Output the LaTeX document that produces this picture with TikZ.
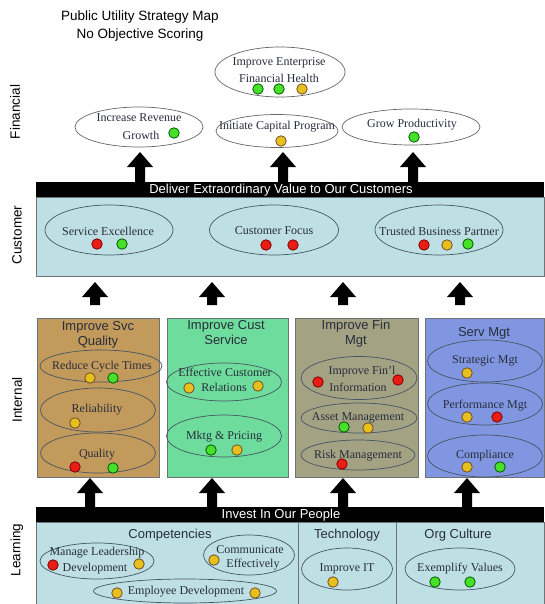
\documentclass[tikz,border=0pt]{standalone}
\usepackage{fontspec}
\setmainfont{Liberation Serif}
\setsansfont{Liberation Sans}
\usetikzlibrary{shapes.geometric}
\definecolor{custfill}{RGB}{190,224,228}
\definecolor{brownfill}{RGB}{194,154,92}
\definecolor{greenfill}{RGB}{110,220,156}
\definecolor{olivefill}{RGB}{163,162,131}
\definecolor{bluefill}{RGB}{128,150,224}
\definecolor{edgegray}{RGB}{110,115,120}
\definecolor{ellline}{RGB}{70,85,100}
\definecolor{dred}{RGB}{232,30,20}
\definecolor{dgreen}{RGB}{70,225,40}
\definecolor{dyellow}{RGB}{232,192,30}
\definecolor{txtdark}{RGB}{40,45,60}
\newcounter{dotc}
\newcommand\sdot[3]{\stepcounter{dotc}\node[#1] (dot\arabic{dotc}) at (#2,#3) {};}
\newcommand\blockup[4]{% name, x, ybottom, ytop
  \fill[black] (#2-5,#3) -- (#2-5,#4+15) -- (#2-13,#4+15) -- (#2,#4) -- (#2+13,#4+15) -- (#2+5,#4+15) -- (#2+5,#3) -- cycle;
  \coordinate (#1) at (#2,#4);}
\tikzset{
  oval/.style={ellipse, draw=ellline, line width=0.7pt, inner sep=0pt},
  fin/.style={oval, draw=gray!80!black, fill=white},
  otext/.style={font=\fontsize{12}{14}\selectfont, text=txtdark, inner sep=0pt},
  stext/.style={font=\sffamily\fontsize{13}{15}\selectfont, inner sep=0pt},
  side/.style={font=\sffamily\fontsize{13.5}{15}\selectfont, rotate=90, inner sep=0pt},
  bar/.style={fill=black},
  panel/.style={draw=edgegray, line width=0.8pt},
  dotbase/.style={circle, minimum size=10.5pt, inner sep=0pt, line width=0.8pt},
  rdot/.style={dotbase, fill=dred, draw=red!50!black},
  gdot/.style={dotbase, fill=dgreen, draw=green!35!black},
  ydot/.style={dotbase, fill=dyellow, draw=brown!60!black},
}
\begin{document}
\begin{tikzpicture}[x=1pt,y=-1pt]
\useasboundingbox (0,0) rectangle (544,604);
% title
\node[stext, align=center, font=\sffamily\fontsize{13.5}{18}\selectfont] (title) at (140,26) {Public Utility Strategy Map\\No Objective Scoring};
% side labels
\node[side] (lfin) at (15,112) {Financial};
\node[side] (lcus) at (17,235) {Customer};
\node[side] (lint) at (17,400) {Internal};
\node[side] (llrn) at (17,550) {Learning};

% ===== Financial =====
\node[fin, minimum width=128pt, minimum height=40pt] (e1) at (139,127) {};
\node[otext] (t1a) at (139,118) {Increase Revenue};
\node[otext] (t1b) at (141,135) {Growth};
\sdot{gdot}{174}{133}
\node[fin, minimum width=130pt, minimum height=50pt] (e2) at (280,72) {};
\node[otext] (t2a) at (279,63) {Improve Enterprise};
\node[otext] (t2b) at (279,78) {Financial Health};
\sdot{gdot}{258}{89}\sdot{gdot}{279}{89}\sdot{ydot}{302}{89}
\node[fin, minimum width=122pt, minimum height=33pt] (e3) at (277,131) {};
\node[otext] (t3) at (277,127) {Initiate Capital Program};
\sdot{ydot}{281}{141}
\node[fin, minimum width=138pt, minimum height=36pt] (e4) at (411,127) {};
\node[otext] (t4) at (412,125) {Grow Productivity};
\sdot{gdot}{414}{137}

% arrows to financial
\blockup{af1}{140}{182}{152}
\blockup{af2}{283}{182}{152}
\blockup{af3}{413}{182}{152}

% ===== Customer =====
\fill[bar] (36,182) rectangle (544,197);
\node[stext, text=white] (deliver) at (281,190) {Deliver Extraordinary Value to Our Customers};
\filldraw[panel, fill=custfill] (36,197) rectangle (544,276);
\node[oval, minimum width=128pt, minimum height=50pt] (c1) at (109,230) {};
\node[otext] (ct1) at (108,231) {Service Excellence};
\sdot{rdot}{97}{244}\sdot{gdot}{122}{244}
\node[oval, minimum width=129pt, minimum height=50pt] (c2) at (274,230) {};
\node[otext] (ct2) at (274,231) {Customer Focus};
\sdot{rdot}{266}{245}\sdot{rdot}{293}{245}
\node[oval, minimum width=128pt, minimum height=50pt] (c3) at (439,230) {};
\node[otext] (ct3) at (439,231) {Trusted Business Partner};
\sdot{rdot}{424}{245}\sdot{ydot}{447}{245}\sdot{gdot}{468}{244}

% arrows internal -> customer
\blockup{ac1}{95}{305}{282}
\blockup{ac2}{212}{305}{282}
\blockup{ac3}{343}{305}{282}
\blockup{ac4}{460}{305}{282}

% ===== Internal =====
\filldraw[panel, fill=brownfill] (37,318) rectangle (159,477);
\filldraw[panel, fill=greenfill] (167,318) rectangle (288,477);
\filldraw[panel, fill=olivefill] (295,318) rectangle (418,477);
\filldraw[panel, fill=bluefill] (425,318) rectangle (544,477);

\node[stext, align=center, text=txtdark] (h1) at (98,335) {Improve Svc\\Quality};
\node[stext, align=center, text=txtdark] (h2) at (226,333) {Improve Cust\\Service};
\node[stext, align=center, text=txtdark] (h3) at (356,334) {Improve Fin\\Mgt};
\node[stext, text=txtdark] (h4) at (484,333) {Serv Mgt};

% col1
\node[oval, minimum width=122pt, minimum height=32pt] (i1) at (101,366) {};
\node[otext] (it1) at (102,367) {Reduce Cycle Times};
\sdot{ydot}{90}{378}\sdot{gdot}{113}{378}
\node[oval, minimum width=115pt, minimum height=44pt] (i2) at (98,410) {};
\node[otext] (it2) at (97,410) {Reliability};
\sdot{ydot}{75}{423}
\node[oval, minimum width=115pt, minimum height=40pt] (i3) at (98,453) {};
\node[otext] (it3) at (97,455) {Quality};
\sdot{rdot}{75}{467}\sdot{gdot}{113}{468}

% col2
\node[oval, minimum width=115pt, minimum height=38pt] (i4) at (224,382) {};
\node[otext] (it4a) at (225,372) {Effective Customer};
\node[otext] (it4b) at (224,387) {Relations};
\sdot{ydot}{189}{388}\sdot{ydot}{258}{386}
\node[oval, minimum width=115pt, minimum height=42pt] (i5) at (224,436) {};
\node[otext] (it5) at (224,437) {Mktg \& Pricing};
\sdot{gdot}{211}{450}\sdot{ydot}{237}{450}

% col3
\node[oval, minimum width=116pt, minimum height=43pt] (i6) at (359,378) {};
\node[otext] (it6a) at (362,372) {Improve Fin'l};
\node[otext] (it6b) at (358,387) {Information};
\sdot{rdot}{318}{382}\sdot{rdot}{398}{380}
\node[oval, minimum width=116pt, minimum height=30pt] (i7) at (359,418) {};
\node[otext] (it7) at (358,418) {Asset Management};
\sdot{gdot}{344}{427}\sdot{ydot}{368}{428}
\node[oval, minimum width=114pt, minimum height=30pt] (i8) at (358,455) {};
\node[otext] (it8) at (358,456) {Risk Management};
\sdot{rdot}{342}{464}

% col4
\node[oval, minimum width=115pt, minimum height=42pt] (i9) at (485,361) {};
\node[otext] (it9) at (485,361) {Strategic Mgt};
\sdot{ydot}{467}{373}
\node[oval, minimum width=115pt, minimum height=42pt] (i10) at (485,404) {};
\node[otext] (it10) at (485,406) {Performance Mgt};
\sdot{ydot}{467}{417}\sdot{rdot}{497}{417}
\node[oval, minimum width=115pt, minimum height=42pt] (i11) at (485,456) {};
\node[otext] (it11) at (485,456) {Compliance};
\sdot{ydot}{467}{467}\sdot{gdot}{500}{467}

% arrows learning -> internal
\blockup{al1}{90}{507}{478}
\blockup{al2}{212}{507}{478}
\blockup{al3}{343}{507}{478}
\blockup{al4}{467}{507}{478}

% ===== Learning =====
\fill[bar] (36,507) rectangle (544,522);
\node[stext, text=white] (invest) at (281,515) {Invest In Our People};
\filldraw[panel, fill=custfill] (36,522) rectangle (544,606);
\draw[panel] (298,522) -- (298,606);
\draw[panel] (396,522) -- (396,606);
\node[stext, text=txtdark] (g1) at (170,535) {Competencies};
\node[stext, text=txtdark] (g2) at (347,535) {Technology};
\node[stext, text=txtdark] (g3) at (458,535) {Org Culture};

\node[oval, minimum width=114pt, minimum height=36pt] (l1) at (97,561) {};
\node[otext] (lt1a) at (97,553) {Manage Leadership};
\node[otext] (lt1b) at (95,569) {Development};
\sdot{rdot}{53}{565}\sdot{ydot}{139}{564}
\node[oval, minimum width=91pt, minimum height=40pt] (l2) at (249,555) {};
\node[otext] (lt2a) at (250,550) {Communicate};
\node[otext] (lt2b) at (253,565) {Effectively};
\sdot{ydot}{214}{560}
\node[oval, minimum width=183pt, minimum height=24pt] (l3) at (185,591) {};
\node[otext] (lt3) at (186,592) {Employee Development};
\sdot{ydot}{117}{593}\sdot{ydot}{255}{593}
\node[oval, minimum width=91pt, minimum height=42pt] (l4) at (347,569) {};
\node[otext] (lt4) at (347,569) {Improve IT};
\sdot{ydot}{333}{582}
\node[oval, minimum width=110pt, minimum height=42pt] (l5) at (460,569) {};
\node[otext] (lt5) at (460,569) {Exemplify Values};
\sdot{gdot}{435}{582}\sdot{gdot}{470}{582}
\end{tikzpicture}
\end{document}
